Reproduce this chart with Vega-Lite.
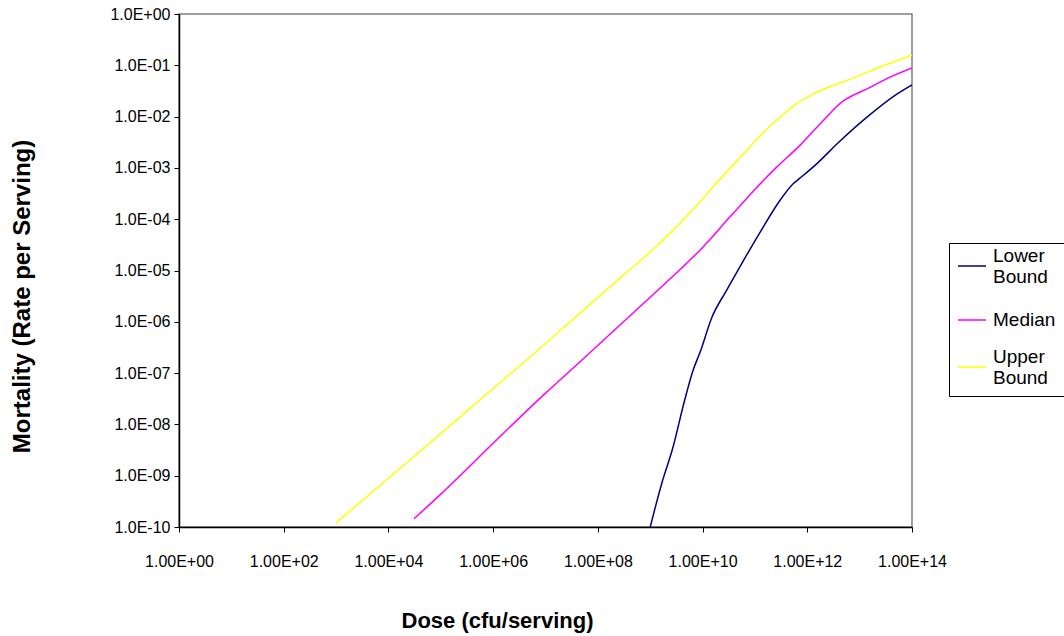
{
  "$schema": "https://vega.github.io/schema/vega-lite/v6.json",
  "autosize": {"type": "none"},
  "padding": {"left": 179, "top": 14, "right": 152, "bottom": 109},
  "width": 733,
  "height": 513,
  "background": "white",
  "config": {
    "font": "Liberation Sans",
    "view": {"stroke": "#808080", "strokeWidth": 1.5},
    "axis": {"domainColor": "#000000", "tickColor": "#000000", "labelColor": "#000000", "titleColor": "#000000", "grid": false, "labelFont": "Liberation Sans", "titleFont": "Liberation Sans", "domainWidth": 1.5, "tickWidth": 1}
  },
  "data": {
    "values": [
      {"dose": 1000, "rate": 1.2e-10, "series": "Upper Bound"},
      {"dose": 1e4, "rate": 8.91e-10, "series": "Upper Bound"},
      {"dose": 1e5, "rate": 6.61e-9, "series": "Upper Bound"},
      {"dose": 1e6, "rate": 5.01e-8, "series": "Upper Bound"},
      {"dose": 5.01e6, "rate": 2.04e-7, "series": "Upper Bound"},
      {"dose": 4.57e7, "rate": 1.48e-6, "series": "Upper Bound"},
      {"dose": 3.16e8, "rate": 8.32e-6, "series": "Upper Bound"},
      {"dose": 1e9, "rate": 2.29e-5, "series": "Upper Bound"},
      {"dose": 3.16e9, "rate": 7.08e-5, "series": "Upper Bound"},
      {"dose": 8.91e9, "rate": 2.19e-4, "series": "Upper Bound"},
      {"dose": 1.86e10, "rate": 5.13e-4, "series": "Upper Bound"},
      {"dose": 5.89e10, "rate": 1.82e-3, "series": "Upper Bound"},
      {"dose": 1.7e11, "rate": 5.75e-3, "series": "Upper Bound"},
      {"dose": 2.75e11, "rate": 8.91e-3, "series": "Upper Bound"},
      {"dose": 5.01e11, "rate": 1.51e-2, "series": "Upper Bound"},
      {"dose": 1.29e12, "rate": 2.75e-2, "series": "Upper Bound"},
      {"dose": 3.16e12, "rate": 4.07e-2, "series": "Upper Bound"},
      {"dose": 6.61e12, "rate": 5.37e-2, "series": "Upper Bound"},
      {"dose": 2.82e13, "rate": 9.77e-2, "series": "Upper Bound"},
      {"dose": 1e14, "rate": 0.158, "series": "Upper Bound"},
      {"dose": 3.09e4, "rate": 1.45e-10, "series": "Median"},
      {"dose": 1e5, "rate": 4.37e-10, "series": "Median"},
      {"dose": 1.17e6, "rate": 5.01e-9, "series": "Median"},
      {"dose": 1e7, "rate": 4.07e-8, "series": "Median"},
      {"dose": 4.57e7, "rate": 1.66e-7, "series": "Median"},
      {"dose": 1e9, "rate": 3.02e-6, "series": "Median"},
      {"dose": 3.16e9, "rate": 8.91e-6, "series": "Median"},
      {"dose": 1e10, "rate": 2.82e-5, "series": "Median"},
      {"dose": 3.31e10, "rate": 1.1e-4, "series": "Median"},
      {"dose": 1e11, "rate": 3.8e-4, "series": "Median"},
      {"dose": 2.51e11, "rate": 1e-3, "series": "Median"},
      {"dose": 7.24e11, "rate": 2.75e-3, "series": "Median"},
      {"dose": 2e12, "rate": 8.32e-3, "series": "Median"},
      {"dose": 4.79e12, "rate": 2e-2, "series": "Median"},
      {"dose": 7.94e12, "rate": 2.69e-2, "series": "Median"},
      {"dose": 1.38e13, "rate": 3.47e-2, "series": "Median"},
      {"dose": 3.8e13, "rate": 5.89e-2, "series": "Median"},
      {"dose": 1e14, "rate": 8.91e-2, "series": "Median"},
      {"dose": 1e9, "rate": 1e-10, "series": "Lower Bound"},
      {"dose": 1.74e9, "rate": 8.32e-10, "series": "Lower Bound"},
      {"dose": 2.63e9, "rate": 3.16e-9, "series": "Lower Bound"},
      {"dose": 4.57e9, "rate": 3.02e-8, "series": "Lower Bound"},
      {"dose": 6.61e9, "rate": 1.15e-7, "series": "Lower Bound"},
      {"dose": 8.91e9, "rate": 2.51e-7, "series": "Lower Bound"},
      {"dose": 1.51e10, "rate": 1.23e-6, "series": "Lower Bound"},
      {"dose": 2.82e10, "rate": 3.98e-6, "series": "Lower Bound"},
      {"dose": 5.13e10, "rate": 1.17e-5, "series": "Lower Bound"},
      {"dose": 1.26e11, "rate": 5.62e-5, "series": "Lower Bound"},
      {"dose": 3.02e11, "rate": 2.34e-4, "series": "Lower Bound"},
      {"dose": 5.37e11, "rate": 4.9e-4, "series": "Lower Bound"},
      {"dose": 7.24e11, "rate": 6.31e-4, "series": "Lower Bound"},
      {"dose": 1.51e12, "rate": 1.2e-3, "series": "Lower Bound"},
      {"dose": 3.98e12, "rate": 3.16e-3, "series": "Lower Bound"},
      {"dose": 1.38e13, "rate": 9.77e-3, "series": "Lower Bound"},
      {"dose": 5.13e13, "rate": 2.75e-2, "series": "Lower Bound"},
      {"dose": 1e14, "rate": 4.17e-2, "series": "Lower Bound"}
    ]
  },
  "mark": {"type": "line", "strokeWidth": 1.5, "clip": true, "interpolate": "monotone"},
  "encoding": {
    "x": {
      "field": "dose", "type": "quantitative",
      "scale": {"type": "log", "domain": [1, 1e14], "nice": false},
      "axis": {
        "values": [1, 100, 10000, 1e6, 1e8, 1e10, 1e12, 1e14],
        "labelExpr": "'1.00E+' + (round(log(datum.value)/LN10) < 10 ? '0' : '') + round(log(datum.value)/LN10)",
        "labelFontSize": 16, "labelBaseline": "middle", "labelPadding": 29, "tickSize": 5,
        "labelFlush": false, "labelOverlap": false,
        "title": "Dose (cfu/serving)", "titleFontSize": 22, "titleFontWeight": "bold",
        "titleX": 318, "titleY": 93, "titleBaseline": "middle", "titleAlign": "center"
      }
    },
    "y": {
      "field": "rate", "type": "quantitative",
      "scale": {"type": "log", "domain": [1e-10, 1], "nice": false},
      "axis": {
        "values": [1e-10, 1e-9, 1e-8, 1e-7, 1e-6, 1e-5, 1e-4, 1e-3, 1e-2, 1e-1, 1],
        "labelExpr": "'1.0E' + (round(log(datum.value)/LN10) < 0 ? '-' : '+') + (abs(round(log(datum.value)/LN10)) < 10 ? '0' : '') + abs(round(log(datum.value)/LN10))",
        "labelFontSize": 16, "labelPadding": 4, "tickSize": 5,
        "labelFlush": false, "labelOverlap": false,
        "title": "Mortality (Rate per Serving)", "titleFontSize": 24, "titleFontWeight": "bold",
        "titleX": -157, "titleY": 282, "titleAngle": -90, "titleBaseline": "middle", "titleAlign": "center"
      }
    },
    "color": {
      "field": "series", "type": "nominal",
      "scale": {"domain": ["Lower Bound", "Median", "Upper Bound"], "range": ["#000080", "#FF00FF", "#FFFF00"]},
      "legend": {
        "title": null, "orient": "none", "legendX": 770, "legendY": 229,
        "strokeColor": "#000000", "padding": 8, "fillColor": "white",
        "symbolType": "stroke", "symbolSize": 784, "symbolStrokeWidth": 1.5,
        "labelFontSize": 19, "labelOffset": 6, "labelColor": "#000000", "labelFont": "Liberation Sans",
        "labelBaseline": {"expr": "datum.label == 'Median' ? 'middle' : 'bottom'"},
        "labelExpr": "split(datum.label, ' ')", "rowPadding": 18
      }
    },
    "order": {"field": "dose", "type": "quantitative"}
  }
}
